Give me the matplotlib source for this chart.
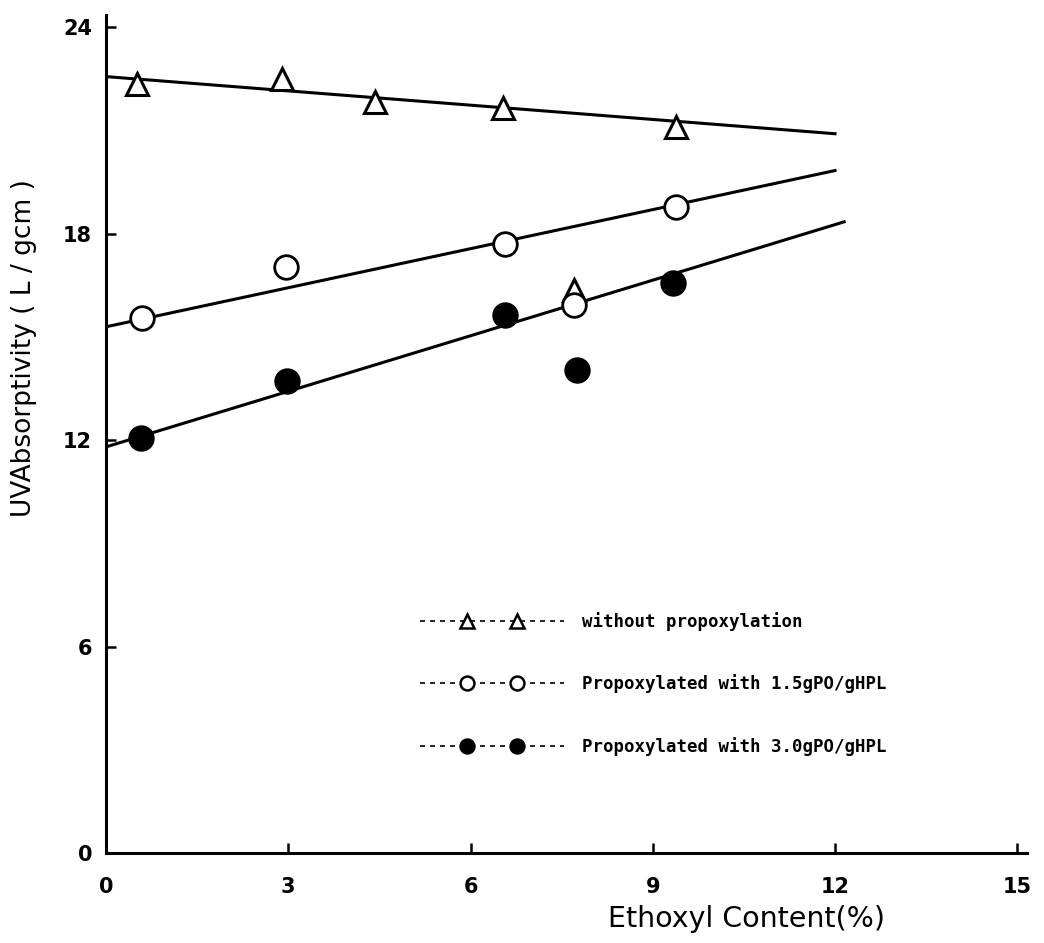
import matplotlib
matplotlib.use('Agg')
import matplotlib.pyplot as plt
from matplotlib.lines import Line2D
from matplotlib.legend_handler import HandlerLine2D, HandlerTuple

# ethoxyl content (%) and UV absorptivity (L/g cm)
tri_x = [0.51, 2.89, 4.42, 6.53, 9.39, 7.71]
tri_y = [22.35, 22.5, 21.83, 21.66, 21.1, 16.37]
open_x = [0.59, 2.96, 6.56, 9.39, 7.71]
open_y = [15.55, 17.03, 17.7, 18.78, 15.93]
fill_x = [0.58, 2.98, 6.56, 7.76, 9.33]
fill_y = [12.06, 13.72, 15.64, 14.04, 16.57]

# fitted lines (end points)
tri_fit_x = [0, 12]
tri_fit_y = [22.56, 20.9]
open_fit_x = [0, 12]
open_fit_y = [15.29, 19.83]
fill_fit_x = [0, 12.15]
fill_fit_y = [11.8, 18.34]

labels = ['without propoxylation',
          'Propoxylated with 1.5gPO/gHPL',
          'Propoxylated with 3.0gPO/gHPL']
xticks = [0, 3, 6, 9, 12, 15]
yticks = [0, 6, 12, 18, 24]

plt.rcParams['font.family'] = ['DejaVu Sans']

fig = plt.figure(figsize=(10.44, 9.43), dpi=100)
ax = fig.add_axes([106 / 1044, 90 / 943, 921 / 1044, 838 / 943])

ax.plot(tri_fit_x, tri_fit_y, color='black', lw=2.2)
ax.plot(open_fit_x, open_fit_y, color='black', lw=2.2)
ax.plot(fill_fit_x, fill_fit_y, color='black', lw=2.2)

ax.plot(tri_x, tri_y, ls='none', marker='^', ms=16, mfc='white', mec='black', mew=2.2)
ax.plot(open_x, open_y, ls='none', marker='o', ms=17, mfc='white', mec='black', mew=2.0)
ax.plot(fill_x, fill_y, ls='none', marker='o', ms=18, mfc='black', mec='black')

ax.set_xlim(0, 15.16)
ax.set_ylim(0, 24.35)
ax.set_xticks(xticks)
ax.set_yticks(yticks)
for s in ['top', 'right']:
    ax.spines[s].set_visible(False)
for s in ['left', 'bottom']:
    ax.spines[s].set_linewidth(2.2)
ax.tick_params(direction='in', length=7, width=1.8)
ax.tick_params(axis='x', pad=17)
ax.tick_params(axis='y', pad=10)
for lab in ax.get_xticklabels() + ax.get_yticklabels():
    lab.set_fontweight('bold')
    lab.set_fontsize(15)

ax.set_ylabel('UVAbsorptivity ( L / gcm )', fontsize=19)
ax.yaxis.set_label_coords(-0.075, 0.603)
ax.set_xlabel('Ethoxyl Content(%)', fontsize=20.5)
ax.xaxis.set_label_coords(0.695, -0.062)

# legend: dashed line across the full handle, two markers set in from the ends
handles = []
hmap = {}
for mk, fc in [('^', 'white'), ('o', 'white'), ('o', 'black')]:
    dash = Line2D([], [], color='black', lw=1.2, ls=(0, (3, 3)))
    pts = Line2D([], [], ls='none', marker=mk, ms=10, mfc=fc, mec='black', mew=1.8)
    hmap[dash] = HandlerLine2D(numpoints=1)
    hmap[pts] = HandlerLine2D(marker_pad=2.7, numpoints=2)
    handles.append((dash, pts))
hmap[tuple] = HandlerTuple(ndivide=1)

ax.legend(handles, labels, loc='upper left', bbox_to_anchor=(0.341, 0.2876),
          frameon=False, borderpad=0, borderaxespad=0,
          handlelength=8.3, handletextpad=1.0, labelspacing=2.5,
          prop={'family': 'DejaVu Sans Mono', 'weight': 'bold', 'size': 12.5},
          handler_map=hmap)

fig.savefig('out.png', dpi=100)
